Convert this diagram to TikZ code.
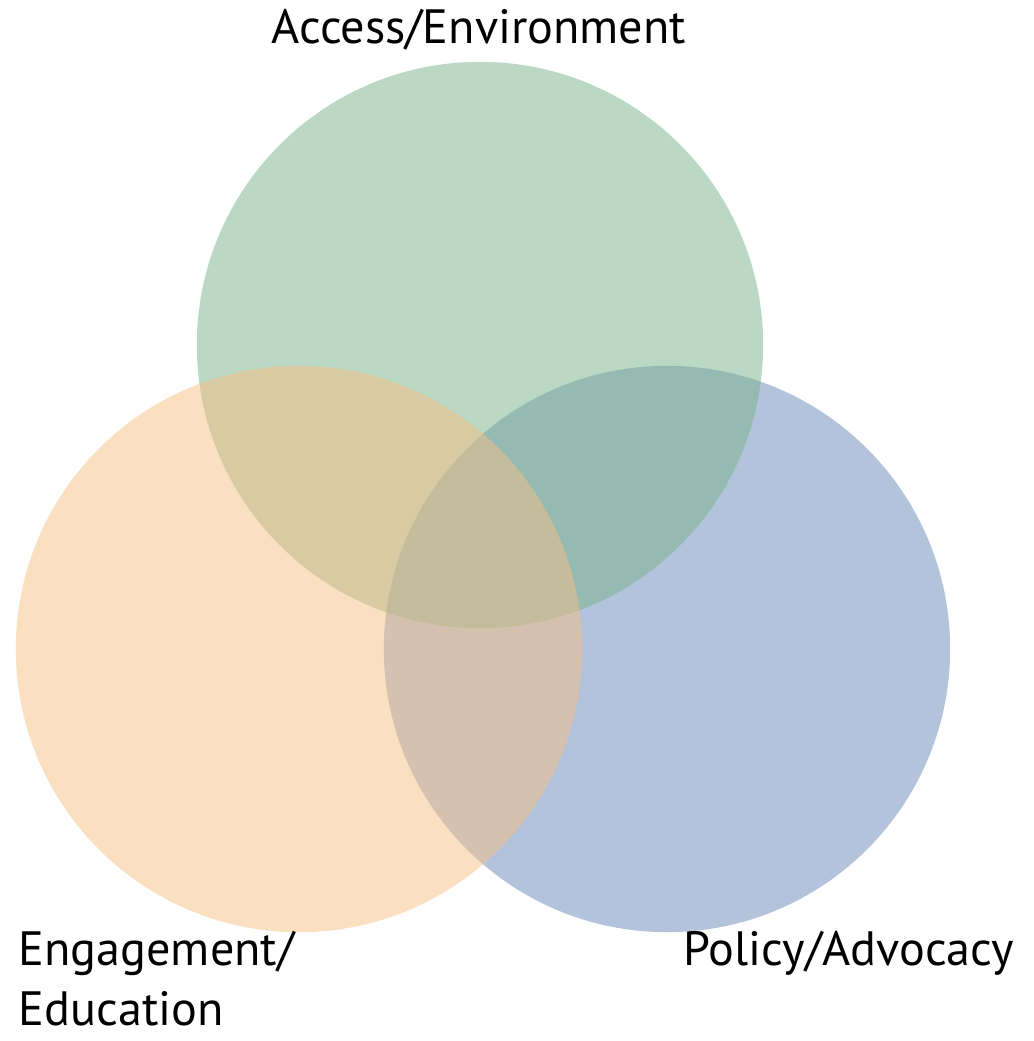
\documentclass[tikz,border=0pt]{standalone}
\usepackage{fontspec}
\setmainfont{PT Sans}
\usepackage{tikz}

\definecolor{accessgreen}{RGB}{119,177,137}
\definecolor{engageorange}{RGB}{245,191,131}
\definecolor{policyblue}{RGB}{105,135,185}

\tikzset{
    venn/.style={circle, minimum size=5.66cm, inner sep=0pt, fill opacity=0.5},
    lbl/.style={inner sep=0pt, font=\fontsize{13.7pt}{16pt}\selectfont}
}

\begin{document}
\begin{tikzpicture}[x=0.01cm, y=-0.01cm]
    \useasboundingbox (0,0) rectangle (1034,1041);

    \node[venn, fill=policyblue] (policy) at (667,649) {};
    \node[venn, fill=accessgreen] (access) at (480,345) {};
    \node[venn, fill=engageorange] (engage) at (299,649) {};

    \node[lbl, anchor=base] (accesslbl) at (479,43) {Access/Environment};
    \node[lbl, anchor=base west] (engagelbl) at (18,965) {Engagement/};
    \node[lbl, anchor=base west] (educlbl) at (18,1025) {Education};
    \node[lbl, anchor=base west] (policylbl) at (683,965) {Policy/Advocacy};
\end{tikzpicture}
\end{document}
